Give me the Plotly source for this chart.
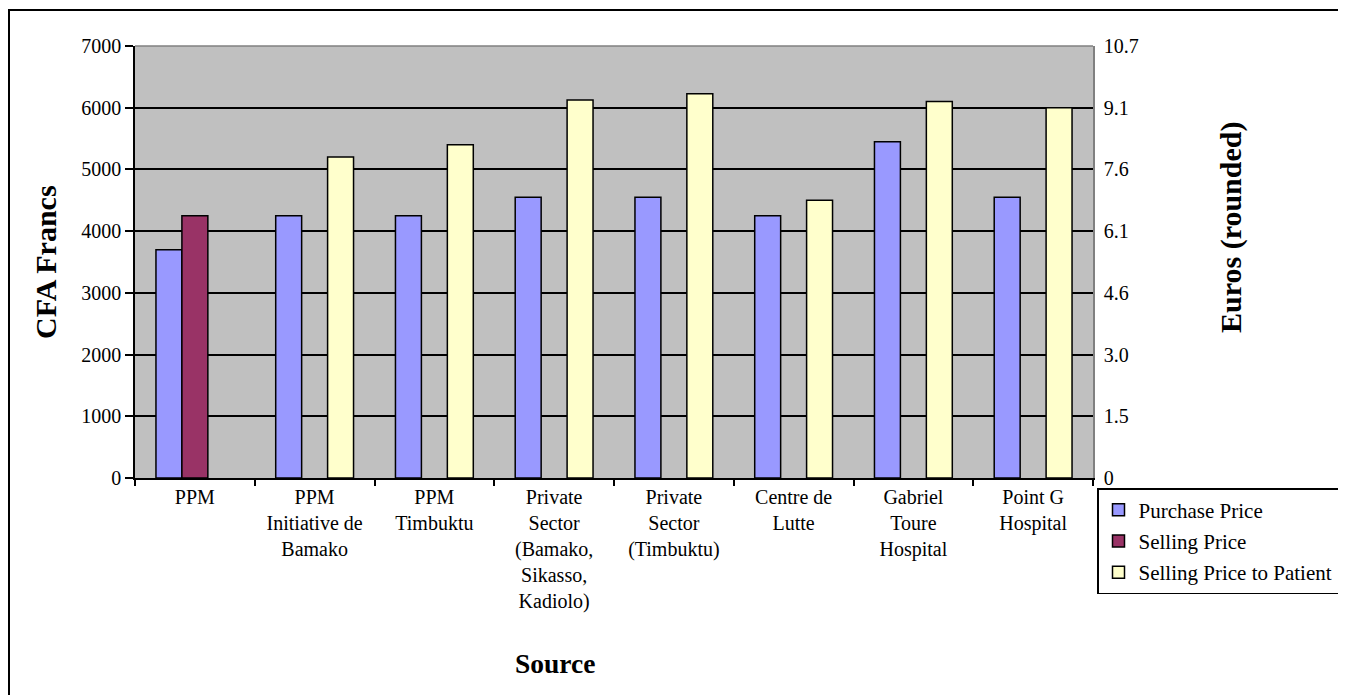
import plotly.graph_objects as go

categories = [
    "PPM",
    "PPM<br>Initiative de<br>Bamako",
    "PPM<br>Timbuktu",
    "Private<br>Sector<br>(Bamako,<br>Sikasso,<br>Kadiolo)",
    "Private<br>Sector<br>(Timbuktu)",
    "Centre de<br>Lutte",
    "Gabriel<br>Toure<br>Hospital",
    "Point G<br>Hospital",
]
purchase_price = [3700, 4250, 4250, 4550, 4550, 4250, 5450, 4550]
selling_price = [4250, None, None, None, None, None, None, None]
selling_price_patient = [None, 5200, 5400, 6125, 6225, 4500, 6100, 6000]

cfa_ticks = [0, 1000, 2000, 3000, 4000, 5000, 6000, 7000]
euro_tick_labels = ["0", "1.5", "3.0", "4.6", "6.1", "7.6", "9.1", "10.7"]

FONT = "Liberation Serif"
OFF = 8  # page body margin
W, H = 1346 - OFF, 695 - OFF
PL, PR, PT, PB = 135, 1093, 46, 478  # plot area in page pixels
L, T = PL - OFF, PT - OFF
R = W - L - (PR - PL)
B = H - T - (PB - PT)
pw, ph = PR - PL, PB - PT

def px_x(x):
    return (x - PL) / pw

def px_y(y):
    return (PB - y) / ph

fig = go.Figure()
line = dict(color="black", width=1.5)
fig.add_trace(go.Bar(name="Purchase Price", x=categories, y=purchase_price,
                     legendgroup="a", marker=dict(color="#9999FF", line=line)))
fig.add_trace(go.Bar(name="Selling Price", x=categories, y=selling_price,
                     legendgroup="b", marker=dict(color="#993366", line=line)))
fig.add_trace(go.Bar(name="Selling Price to Patient", x=categories, y=selling_price_patient,
                     legendgroup="c", marker=dict(color="#FFFFCC", line=line)))
fig.add_trace(go.Scatter(x=categories, y=[None] * len(categories), yaxis="y2",
                         showlegend=False, hoverinfo="skip", mode="markers"))

fig.update_layout(
    width=W, height=H,
    margin=dict(l=L, r=R, t=T, b=B, autoexpand=False),
    paper_bgcolor="white",
    plot_bgcolor="#C0C0C0",
    barmode="group",
    bargap=0.35,
    bargroupgap=0,
    font=dict(family=FONT, size=20, color="black"),
    xaxis=dict(
        type="category", tickson="boundaries", ticks="outside", ticklen=6,
        tickcolor="black", tickwidth=1.5, showline=True, linecolor="black",
        linewidth=1.5, showgrid=False, tickfont=dict(family=FONT, size=20),
        tickangle=0,
    ),
    yaxis=dict(
        range=[0, 7000], tickvals=cfa_ticks, ticks="outside", ticklen=8,
        tickcolor="black", tickwidth=1.5, showline=True, linecolor="black",
        linewidth=1.5, showgrid=True, gridcolor="black", gridwidth=1.5,
        zeroline=False, tickfont=dict(family=FONT, size=20),
    ),
    yaxis2=dict(
        overlaying="y", side="right", range=[0, 7000], tickvals=cfa_ticks,
        ticktext=euro_tick_labels, showgrid=False, zeroline=False,
        ticks="outside", ticklen=5, tickcolor="rgba(0,0,0,0)",
        showline=True, linecolor="#808080", linewidth=1.5,
        tickfont=dict(family=FONT, size=20),
    ),
    legend=dict(
        x=px_x(1097), y=px_y(488), xanchor="left", yanchor="top",
        bgcolor="white", bordercolor="black", borderwidth=1.5,
        font=dict(family=FONT, size=21), itemwidth=30,
        traceorder="grouped", tracegroupgap=1,
    ),
    showlegend=True,
)

# plot area top border (gray) and outer chart border
fig.add_shape(type="line", xref="paper", yref="paper", x0=0, x1=1, y0=1, y1=1,
              line=dict(color="#808080", width=1.5))
fig.add_shape(type="rect", xref="paper", yref="paper",
              x0=px_x(9), x1=px_x(1360), y0=px_y(10), y1=px_y(710),
              line=dict(color="black", width=2))

fig.add_annotation(text="<b>CFA Francs</b>", xref="paper", yref="paper",
                   x=px_x(45), y=px_y(262), textangle=-90, showarrow=False,
                   font=dict(family=FONT, size=30), xanchor="center", yanchor="middle")
fig.add_annotation(text="<b>Euros (rounded)</b>", xref="paper", yref="paper",
                   x=px_x(1231), y=px_y(228), textangle=-90, showarrow=False,
                   font=dict(family=FONT, size=30), xanchor="center", yanchor="middle")
fig.add_annotation(text="<b>Source</b>", xref="paper", yref="paper",
                   x=px_x(555), y=px_y(663), showarrow=False,
                   font=dict(family=FONT, size=27.5), xanchor="center", yanchor="middle")

fig.write_html("out.html")
